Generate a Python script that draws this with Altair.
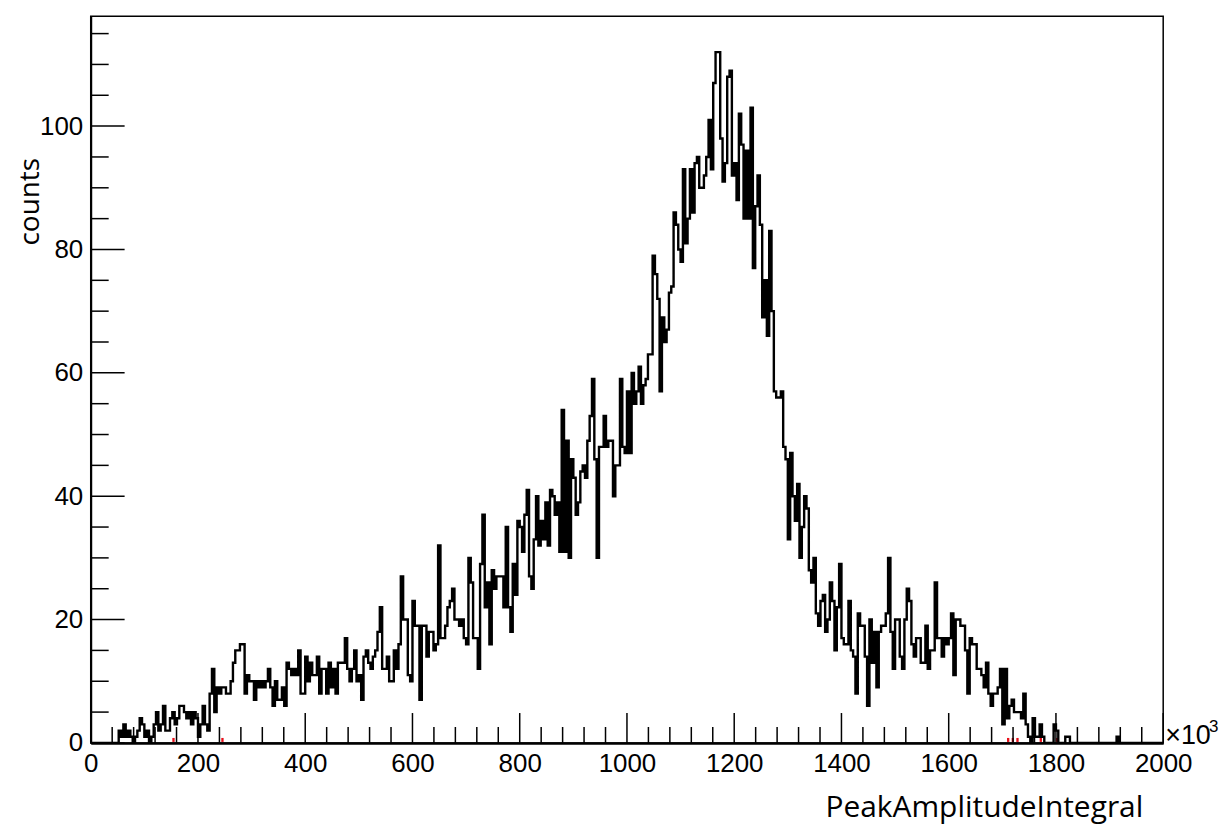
import altair as alt
import pandas as pd

# ---------------- data ----------------
N_BINS = 460
X_MIN, X_MAX = 0, 2000
Y_MAX = 117.8

# counts per bin (bin width = 2000/460), left to right
seg_a = [0, 0, 0, 0, 0, 0, 0, 0, 0, 0, 0,
         0, 2, 1, 3, 1, 2, 1, 0, 1, 2,
         4, 3, 1, 2, 0, 1, 3, 5, 2, 3,
         6, 2, 2, 4, 5, 3, 4, 6, 6, 5,
         4, 5, 3, 5, 4, 1, 3, 6, 3, 2,
         8, 12, 5, 9, 8, 9, 9, 8, 8, 10,
         13, 15, 15, 16, 16, 8, 11, 10, 10, 7,
         10]
seg_b = [9, 10, 9, 10, 12, 9, 6, 10, 7, 7,
         9, 6, 13, 12, 11, 12, 11, 15, 8, 8,
         14, 10, 13, 11, 11, 14, 8, 12, 12, 8,
         13, 9, 12, 8, 13, 13, 13, 17, 12, 10,
         12, 15, 10, 11, 7, 14, 15, 13, 12, 14,
         15, 18, 22, 12, 12, 14, 10, 10, 15, 12,
         16, 27, 20, 20, 11, 10, 23, 19, 19, 7,
         19, 19, 14, 18, 18, 15, 16, 32, 17, 17,
         19, 22, 23, 25, 20, 20]
seg_c = [19, 20, 17, 16, 30, 26, 17, 17, 12, 29,
         37, 22, 26, 16, 28, 25, 27, 27, 27, 22,
         35, 22, 18, 29, 24, 36, 35, 31, 37, 41,
         27, 25, 33, 40, 32, 36, 33, 39, 32, 41,
         40, 37, 39, 31, 54, 31, 49, 30, 46, 43,
         37, 39, 44, 45, 43, 49, 53, 59, 46, 30,
         48, 48, 53, 48, 49, 49, 40, 45, 45, 59,
         48, 47]
seg_d = [57, 47, 60, 55, 57, 61, 55, 58, 59, 63,
         63, 79, 76, 72, 57, 69, 65, 67, 73, 74,
         86, 84, 80, 78, 93, 81, 85, 93, 86, 94,
         95, 90, 90, 92, 95, 101, 93, 107, 112, 112,
         98, 91, 94, 108, 109, 92, 94, 88, 102, 97,
         85, 96, 85, 103, 77, 87, 92, 84, 69, 75,
         66, 83, 70, 57, 56, 56, 57, 48, 46, 33,
         47, 40, 36, 42, 30, 35, 40]
seg_e = [38, 28, 26, 30, 21, 19, 23, 24, 18, 20,
         26, 23, 15, 22, 29, 17, 16, 16, 23, 15,
         14, 8, 21, 19, 19, 14, 6, 20, 13, 18,
         9, 18, 19, 19, 21, 30, 18, 12, 20, 20,
         14, 12, 20, 25, 23, 16, 14, 17, 17, 13,
         13, 19, 12, 15, 15, 26, 17, 17, 14, 17,
         16, 17, 21, 11, 20, 20, 19, 19, 15, 8,
         17, 16, 16, 12, 12, 11, 9, 13]
seg_f = [8, 6, 8, 8, 9, 12, 3, 12, 4, 6,
         7, 5, 5, 5, 4, 8, 3, 1, 0, 4,
         1, 1, 3, 1, 0, 0, 0, 0, 3, 2,
         0, 0, 0, 1, 1]
seg_g = [0, 0, 0, 0, 0, 0, 0, 0, 0, 0,
         0, 0, 0, 0, 0, 0, 0, 0, 0, 0,
         1, 0, 0, 0, 0, 0, 0, 0, 0, 0,
         0, 0, 0, 0, 0, 0, 0, 0, 0, 0]

# bins carrying the small red markers on the baseline
red_bins = [35, 56, 393, 395, 397, 407, 414]

x_major = [0, 200, 400, 600, 800, 1000, 1200, 1400, 1600, 1800, 2000]
x_minor = [40, 80, 120, 160, 240, 280, 320, 360, 440, 480, 520, 560,
           640, 680, 720, 760, 840, 880, 920, 960, 1040, 1080, 1120, 1160,
           1240, 1280, 1320, 1360, 1440, 1480, 1520, 1560, 1640, 1680, 1720, 1760,
           1840, 1880, 1920, 1960]
y_major = [0, 20, 40, 60, 80, 100]
y_minor = [5, 10, 15, 25, 30, 35, 45, 50, 55, 65, 70, 75, 85, 90, 95, 105, 110, 115]

# ---------------- build ----------------
counts = seg_a + seg_b + seg_c + seg_d + seg_e + seg_f + seg_g
bw = (X_MAX - X_MIN) / N_BINS
hist = pd.DataFrame({"x": [X_MIN + i * bw for i in range(N_BINS + 1)],
                     "y": counts + [counts[-1]]})
red = pd.DataFrame({"x": [b * bw for b in red_bins], "x2": [(b + 1) * bw for b in red_bins]})

W, H = 1076, 729
FONT = "Liberation Sans"
xs = alt.Scale(domain=[X_MIN, X_MAX], nice=False, zero=False)
ys = alt.Scale(domain=[0, Y_MAX], nice=False)

x_axis = alt.Axis(values=x_major, format="d", labelFont=FONT, labelFontSize=26,
                  labelColor="black", ticks=False, domain=True, domainColor="black",
                  domainWidth=2.5, grid=False, labelPadding=8, title=None,
                  labelFlush=False, labelOverlap=False)
y_axis = alt.Axis(values=y_major, format="d", labelFont=FONT, labelFontSize=26,
                  labelColor="black", ticks=False, domain=True, domainColor="black",
                  domainWidth=2, grid=False, labelPadding=8, title=None,
                  labelOverlap=False)

XE = alt.X("x:Q", scale=xs, axis=x_axis)
YE = alt.Y("y:Q", scale=ys, axis=y_axis)

red_layer = alt.Chart(red).mark_rect(color="#e8101a").encode(
    x=XE, x2="x2:Q",
    y=alt.value(H - 1), y2=alt.value(H - 5))

hist_layer = alt.Chart(hist).mark_line(
    interpolate="step-after", color="black", strokeWidth=2.4, clip=True).encode(
    x=XE, y=YE)

def xticks(vals, length):
    return alt.Chart(pd.DataFrame({"x": vals})).mark_rule(color="black", strokeWidth=1.5).encode(
        x=XE, y=alt.value(H), y2=alt.value(H - length))

def yticks(vals, length):
    return alt.Chart(pd.DataFrame({"y": vals})).mark_rule(color="black", strokeWidth=1.5).encode(
        y=YE, x=alt.value(0), x2=alt.value(length))

one = pd.DataFrame({"k": [0]})
times_ten = alt.Chart(one).mark_text(text="×10", font=FONT, fontSize=27, align="left",
                                     baseline="alphabetic", dx=2, dy=1, color="black").encode(
    x=alt.datum(X_MAX), y=alt.datum(0))
exponent = alt.Chart(one).mark_text(text="3", font=FONT, fontSize=17, align="left",
                                    baseline="alphabetic", dx=46, dy=-11, color="black").encode(
    x=alt.datum(X_MAX), y=alt.datum(0))
x_title = alt.Chart(one).mark_text(text="PeakAmplitudeIntegral", font="Open Sans", fontSize=30,
                                   align="right", baseline="alphabetic", dx=-20, dy=74,
                                   color="black").encode(
    x=alt.datum(X_MAX), y=alt.datum(0))
y_title = alt.Chart(one).mark_text(text="counts", font="Open Sans", fontSize=28, angle=270,
                                   align="center", baseline="alphabetic", color="black").encode(
    x=alt.value(-52), y=alt.value(186))

chart = alt.layer(
    red_layer, hist_layer,
    xticks(x_major, 30), xticks(x_minor, 16),
    yticks(y_major, 34), yticks(y_minor, 18),
    times_ten, exponent, x_title, y_title,
).properties(
    width=W, height=H,
    autosize=alt.AutoSizeParams(type="none"),
    padding={"left": 83, "top": 7, "right": 60, "bottom": 85},
    background="white",
).configure_view(stroke="black", strokeWidth=1.5)

chart.save("out.html", embed_options={"renderer": "svg", "actions": False})
